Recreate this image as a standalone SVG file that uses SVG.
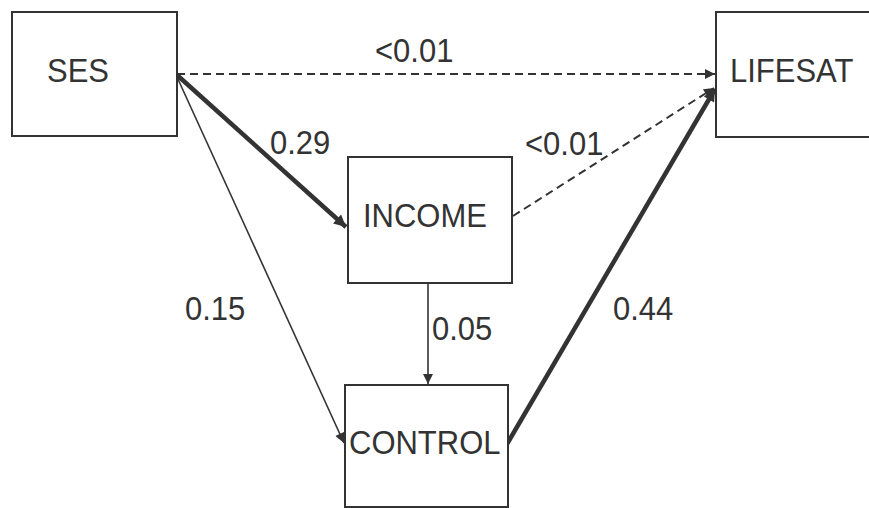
<svg xmlns="http://www.w3.org/2000/svg" width="869" height="508" viewBox="0 0 869 508">
<style>
.box{fill:#fff;stroke:#333;stroke-width:2}
.lbl{font-family:"Liberation Sans",Arial,sans-serif;font-size:31px;fill:#333}
.thin{stroke:#333;stroke-width:1.6;fill:none}
.thick{stroke:#333;stroke-width:4.5;fill:none}
.dash{stroke:#333;stroke-width:2;fill:none;stroke-dasharray:8 5}
</style>
<defs>
<marker id="ah" viewBox="0 0 10 10" refX="10" refY="5" markerWidth="12" markerHeight="10" markerUnits="userSpaceOnUse" orient="auto">
<path d="M0,0 L10,5 L0,10 Z" fill="#333"/>
</marker>
<marker id="ahb" viewBox="0 0 10 10" refX="10" refY="5" markerWidth="14" markerHeight="12" markerUnits="userSpaceOnUse" orient="auto">
<path d="M0,0 L10,5 L0,10 Z" fill="#333"/>
</marker>
</defs>
<rect width="869" height="508" fill="#fff"/>
<g id="connectors">
<line class="dash" x1="177" y1="74" x2="715" y2="74" marker-end="url(#ah)"/>
<line class="thick" x1="177" y1="75" x2="346" y2="227" marker-end="url(#ahb)"/>
<line class="thin" x1="177" y1="77" x2="344" y2="443" marker-end="url(#ah)"/>
<line class="dash" x1="513" y1="216" x2="714" y2="88" marker-end="url(#ah)"/>
<line class="thin" x1="428" y1="283" x2="428" y2="384" marker-end="url(#ah)"/>
<line class="thick" x1="507" y1="444" x2="715" y2="89" marker-end="url(#ahb)"/>
<text class="lbl" transform="translate(375,62) scale(1,1.1)">&lt;0.01</text>
<text class="lbl" transform="translate(270,154) scale(1,1.1)">0.29</text>
<text class="lbl" transform="translate(525,155) scale(1,1.1)">&lt;0.01</text>
<text class="lbl" transform="translate(185,320) scale(1,1.1)">0.15</text>
<text class="lbl" transform="translate(432,340) scale(1,1.1)">0.05</text>
<text class="lbl" transform="translate(613,320) scale(1,1.1)">0.44</text>
</g>
<g id="ses">
<rect class="box" x="12" y="12" width="165" height="124"/>
<text class="lbl" transform="translate(47,82) scale(1,1.1)">SES</text>
</g>
<g id="lifesat">
<rect class="box" x="716" y="12" width="165" height="125"/>
<text class="lbl" transform="translate(730,82) scale(1,1.1)">LIFESAT</text>
</g>
<g id="income">
<rect class="box" x="348" y="157" width="164" height="126"/>
<text class="lbl" transform="translate(363,227) scale(1,1.1)">INCOME</text>
</g>
<g id="control">
<rect class="box" x="345" y="385" width="163" height="122"/>
<text class="lbl" transform="translate(349,454) scale(1,1.1)">CONTROL</text>
</g>
</svg>
